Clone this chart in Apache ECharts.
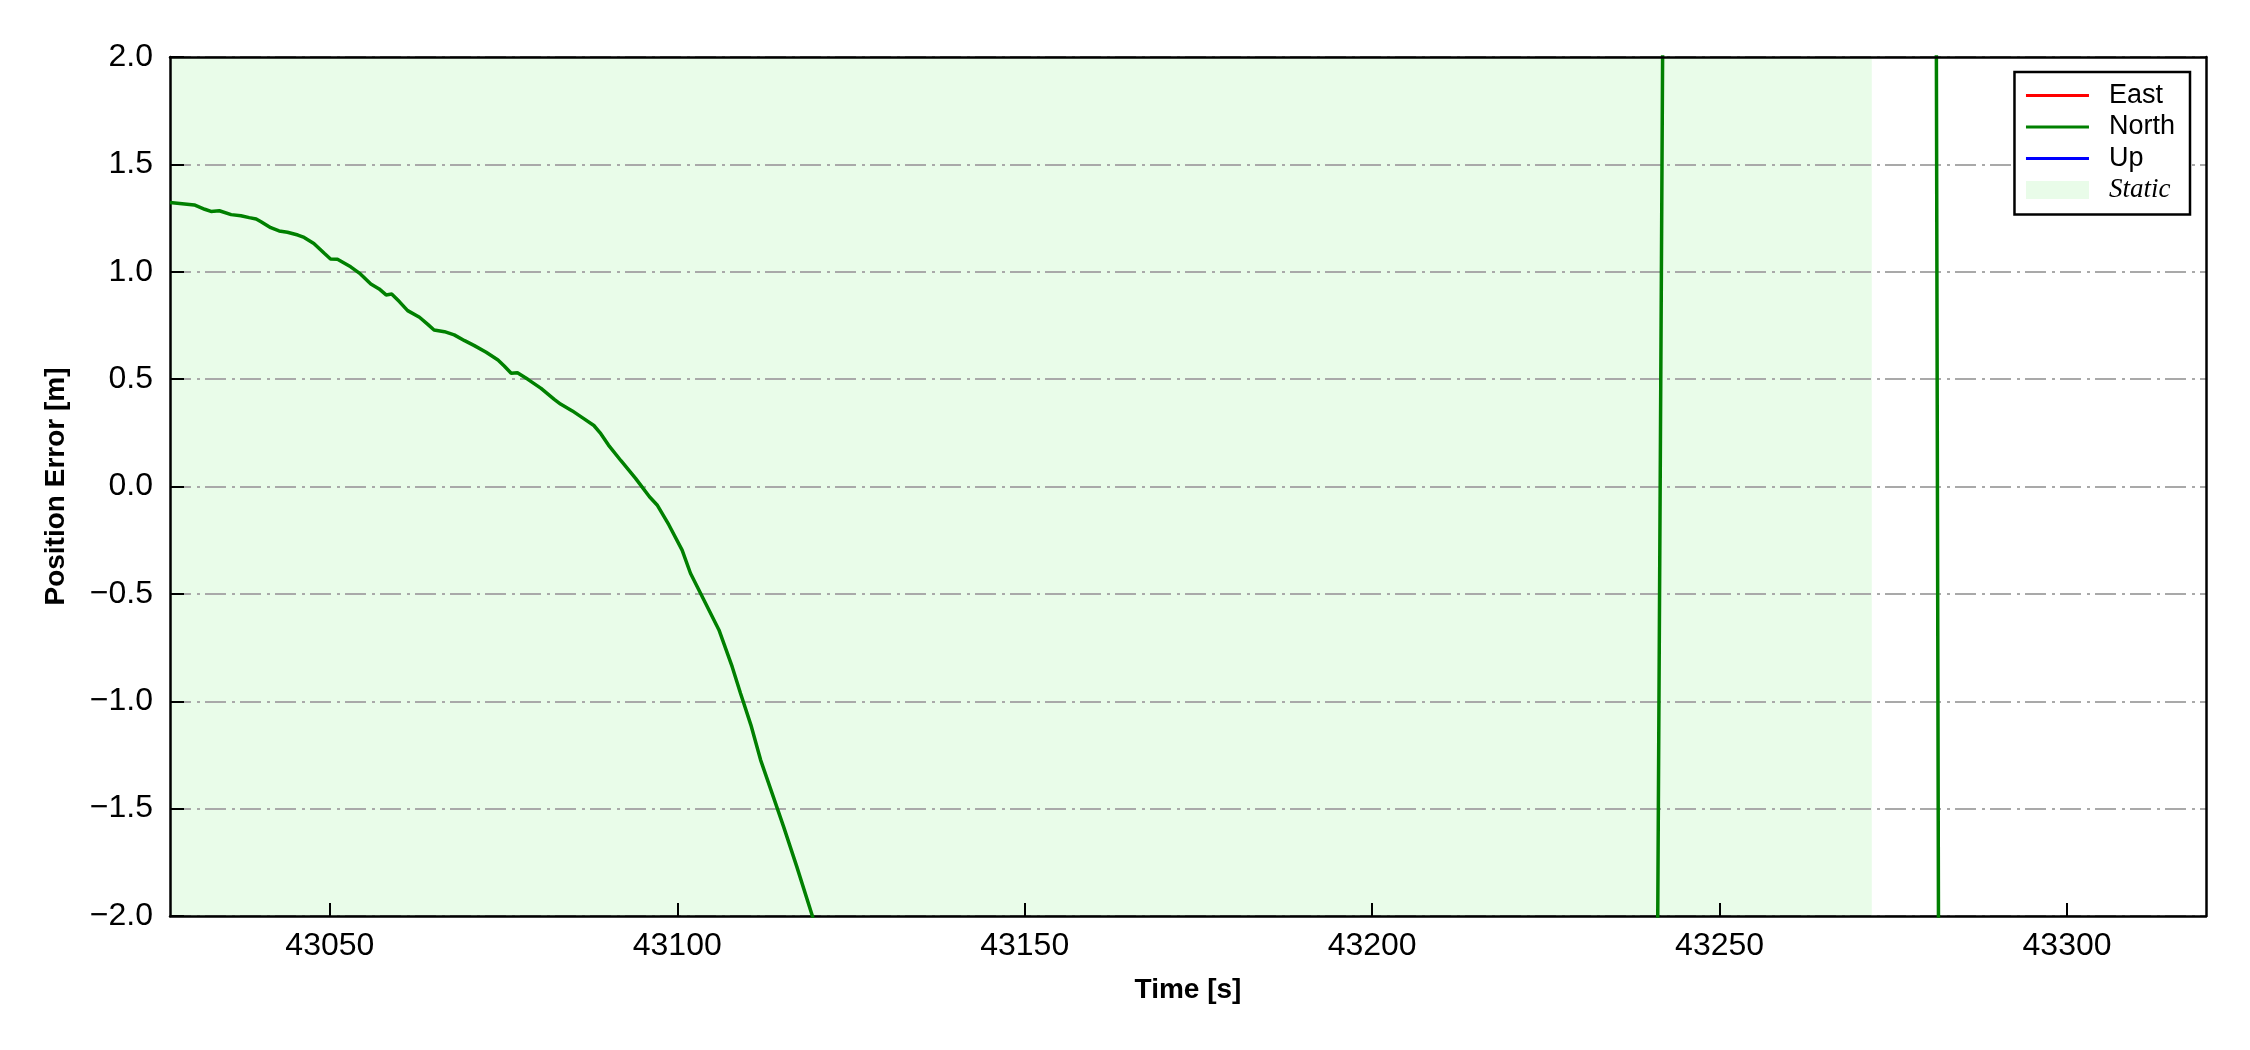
<!DOCTYPE html>
<html>
<head>
<meta charset="utf-8">
<script src="https://cdn.jsdelivr.net/npm/echarts@6/dist/echarts.min.js"></script>
<style>
html,body{margin:0;padding:0;background:#fff;}
#chart{width:2250px;height:1050px;}
</style>
</head>
<body>
<div id="chart"></div>
<script>
// ---- data ----
const seriesNames = ['East', 'North', 'Up'];
const seriesColors = ['#ff0000', '#008000', '#0000ff'];
const eastTime = [];
const eastValue = [];
const upTime = [];
const upValue = [];
const northTime = [
  43027.0, 43030.5, 43032.0, 43032.9, 43034.1, 43035.8, 43037.2, 43038.4, 43039.4, 43040.1,
  43041.5, 43042.7, 43043.9, 43045.4, 43046.3, 43047.7, 43049.2, 43050.1, 43051.1, 43053.0,
  43054.4, 43055.9, 43057.1, 43058.1, 43058.9, 43060.0, 43061.2, 43062.9, 43064.1, 43065.0,
  43066.5, 43067.9, 43069.4, 43070.8, 43072.5, 43074.2, 43075.1, 43076.1, 43077.0, 43078.5,
  43080.4, 43082.3, 43083.2, 43084.9, 43086.6, 43088.0, 43088.9, 43090.1, 43091.9, 43094.0,
  43096.0, 43097.1, 43098.8, 43100.7, 43101.9, 43103.6, 43106.0, 43107.9, 43109.1, 43110.6,
  43112.0, 43113.9, 43115.3, 43117.2, 43119.4, 43122.0, 43130.0, 43180.0, 43241.0, 43242.0,
  43260.0, 43281.0, 43282.0, 43320.0
];
const northValue = [
  1.323, 1.311, 1.291, 1.281, 1.284, 1.266, 1.261, 1.252, 1.246, 1.233,
  1.205, 1.190, 1.184, 1.171, 1.160, 1.132, 1.086, 1.059, 1.058, 1.023,
  0.990, 0.943, 0.920, 0.892, 0.896, 0.861, 0.819, 0.788, 0.755, 0.729,
  0.721, 0.706, 0.679, 0.656, 0.625, 0.589, 0.561, 0.527, 0.530, 0.499,
  0.457, 0.406, 0.384, 0.352, 0.315, 0.284, 0.250, 0.193, 0.120, 0.038,
  -0.048, -0.086, -0.179, -0.296, -0.404, -0.513, -0.668, -0.839, -0.963, -1.111,
  -1.274, -1.452, -1.584, -1.770, -1.995, -2.300, -3.200, -6.000, -2.570, 3.140,
  5.000, 4.670, -8.670, -12.000
];
const staticStart = 43027;
const staticEnd = 43271.9;
const xMin = 43027;
const xMax = 43320;
const xTicks = [43050, 43100, 43150, 43200, 43250, 43300];
const yMin = -2.0;
const yMax = 2.0;
const yStep = 0.5;
const xTitle = 'Time [s]';
const yTitle = 'Position Error [m]';
const staticLabel = 'Static';

// ---- chart ----
const pair = (t, v) => t.map((x, i) => [x, v[i]]);
const FONT = '"Liberation Sans", Arial, Helvetica, sans-serif';
const STATIC_COLOR = '#e9fce9';
const chart = echarts.init(document.getElementById('chart'), null, {renderer: 'canvas'});

const fmtY = v => (v < 0 ? '\u2212' : '') + Math.abs(v).toFixed(1);

const lineSeries = [[eastTime, eastValue], [northTime, northValue], [upTime, upValue]].map((d, i) => ({
  name: seriesNames[i],
  type: 'line',
  data: pair(d[0], d[1]),
  showSymbol: false,
  symbol: 'none',
  clip: true,
  z: 6,
  color: seriesColors[i],
  lineStyle: {color: seriesColors[i], width: 3.5},
  emphasis: {disabled: true}
}));

const option = {
  animation: false,
  backgroundColor: '#ffffff',
  grid: {left: 170, top: 57, right: 44, bottom: 134, containLabel: false, outerBoundsMode: 'none'},
  legend: {
    z: 20,
    zlevel: 0,
    orient: 'vertical',
    right: 60,
    top: 72,
    padding: [10, 15, 11, 10],
    itemWidth: 63,
    itemHeight: 18,
    itemGap: 4.5,
    borderColor: '#000',
    borderWidth: 2.5,
    borderRadius: 0,
    backgroundColor: '#ffffff',
    lineStyle: {width: 3},
    textStyle: {fontFamily: FONT, fontSize: 27, color: '#000', padding: [0, 0, 0, 15]},
    selectedMode: false,
    data: [
      {name: 'East', itemStyle: {opacity: 0}, lineStyle: {width: 3, color: seriesColors[0]}},
      {name: 'North', itemStyle: {opacity: 0}, lineStyle: {width: 3, color: seriesColors[1]}},
      {name: 'Up', itemStyle: {opacity: 0}, lineStyle: {width: 3, color: seriesColors[2]}},
      {name: staticLabel, icon: 'rect', itemStyle: {color: STATIC_COLOR},
       textStyle: {fontFamily: '"Liberation Serif", "Times New Roman", serif', fontStyle: 'italic', fontSize: 27, padding: [0, 0, 0, 15]}}
    ]
  },
  xAxis: [{
    type: 'value',
    min: xMin,
    max: xMax,
    position: 'bottom',
    z: 5,
    name: xTitle,
    nameLocation: 'middle',
    nameGap: 60,
    nameTextStyle: {fontFamily: FONT, fontSize: 28, fontWeight: 'bold', color: '#000'},
    axisLine: {show: true, onZero: false, lineStyle: {color: '#000', width: 2.5}},
    axisTick: {show: true, inside: true, length: 13, customValues: xTicks, lineStyle: {color: '#000', width: 2}},
    axisLabel: {show: true, customValues: xTicks, margin: 14, fontFamily: FONT, fontSize: 32, color: '#000',
      formatter: v => String(v), showMinLabel: true, showMaxLabel: true},
    splitLine: {show: false}
  }, {
    type: 'value',
    min: xMin,
    max: xMax,
    position: 'top',
    z: 10,
    axisLine: {show: true, onZero: false, lineStyle: {color: '#000', width: 2.5}},
    axisTick: {show: false},
    axisLabel: {show: false},
    splitLine: {show: false}
  }],
  yAxis: [{
    type: 'value',
    min: yMin,
    max: yMax,
    interval: yStep,
    position: 'left',
    z: 5,
    name: yTitle,
    nameLocation: 'middle',
    nameRotate: 90,
    nameGap: 100,
    nameTextStyle: {fontFamily: FONT, fontSize: 28, fontWeight: 'bold', color: '#000'},
    axisLine: {show: true, onZero: false, lineStyle: {color: '#000', width: 2.5}},
    axisTick: {show: true, inside: true, length: 14, lineStyle: {color: '#000', width: 2}},
    axisLabel: {show: true, margin: 17, fontFamily: FONT, fontSize: 32, color: '#000', formatter: fmtY},
    splitLine: {show: true, lineStyle: {color: '#a9a9a9', width: 2, type: [21, 6, 3, 5]}}
  }, {
    type: 'value',
    min: yMin,
    max: yMax,
    position: 'right',
    z: 10,
    axisLine: {show: true, onZero: false, lineStyle: {color: '#000', width: 2.5}},
    axisTick: {show: false},
    axisLabel: {show: false},
    splitLine: {show: false}
  }],
  series: [
    {
      name: staticLabel,
      type: 'line',
      data: [],
      z: 1,
      symbol: 'none',
      color: STATIC_COLOR,
      lineStyle: {color: STATIC_COLOR},
      markArea: {
        silent: true,
        z: 1,
        itemStyle: {color: STATIC_COLOR, borderWidth: 0},
        data: [[{xAxis: staticStart}, {xAxis: staticEnd}]]
      }
    }
  ].concat(lineSeries)
};
chart.setOption(option);
</script>
</body>
</html>
